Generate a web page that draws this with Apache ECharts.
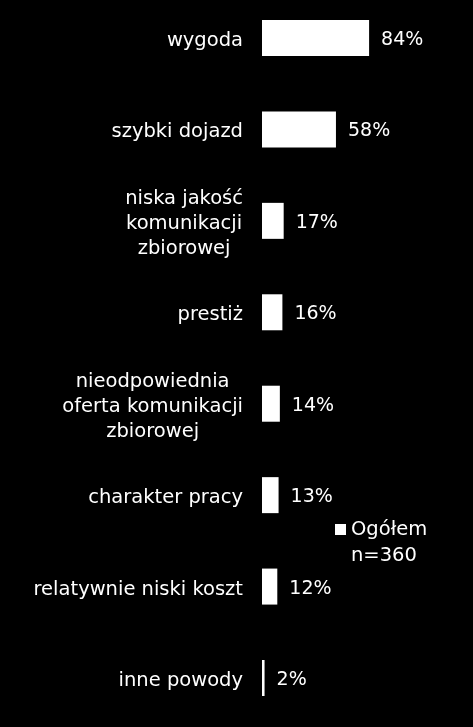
<!DOCTYPE html>
<html>
<head>
<meta charset="utf-8">
<script src="https://cdn.jsdelivr.net/npm/echarts@6/dist/echarts.min.js"></script>
<style>
html,body{margin:0;padding:0;background:#000;}
#chart{width:473px;height:727px;}
</style>
</head>
<body>
<div id="chart"></div>
<script>
const categories = [
  'wygoda',
  'szybki dojazd',
  'niska jakość\nkomunikacji\nzbiorowej',
  'prestiż',
  'nieodpowiednia\noferta komunikacji\nzbiorowej',
  'charakter pracy',
  'relatywnie niski koszt',
  'inne powody'
];
const values = [84, 58, 17, 16, 14, 13, 12, 2];
const seriesName = 'Ogółem\nn=360';

const FONT = 'DejaVu Sans';
const chart = echarts.init(document.getElementById('chart'));
chart.setOption({
  backgroundColor: '#000000',
  animation: false,
  grid: { left: 262, right: 83.5, top: 38, bottom: 49, containLabel: false },
  legend: {
    data: [seriesName],
    left: 330,
    top: 459.5,
    orient: 'vertical',
    icon: 'rect',
    itemWidth: 11,
    itemHeight: 11,
    itemGap: 0,
    formatter: function (name) { return '\n\n' + name + '\n'; },
    textStyle: { color: '#ffffff', fontFamily: FONT, fontSize: 19.5, lineHeight: 26 }
  },
  xAxis: {
    type: 'value',
    min: 0,
    max: 100,
    show: false
  },
  yAxis: {
    type: 'category',
    data: categories,
    inverse: true,
    boundaryGap: false,
    axisLine: { show: false },
    axisTick: { show: false },
    splitLine: { show: false },
    axisLabel: {
      margin: 19,
      color: '#ffffff',
      padding: [6, 0, 0, 0],
      formatter: function (v) {
        return v.split('\n').map(function (s) { return '{a|' + s + '}'; }).join('\n');
      },
      rich: {
        a: { align: 'center', color: '#ffffff', fontFamily: FONT, fontSize: 19.5, lineHeight: 25 }
      }
    }
  },
  series: [{
    name: seriesName,
    type: 'bar',
    data: values,
    barWidth: 36,
    itemStyle: { color: '#ffffff' },
    label: {
      show: true,
      position: 'right',
      distance: 12,
      offset: [0, 2],
      color: '#ffffff',
      fontFamily: FONT,
      fontSize: 19,
      formatter: '{c}%'
    }
  }]
});
</script>
</body>
</html>
